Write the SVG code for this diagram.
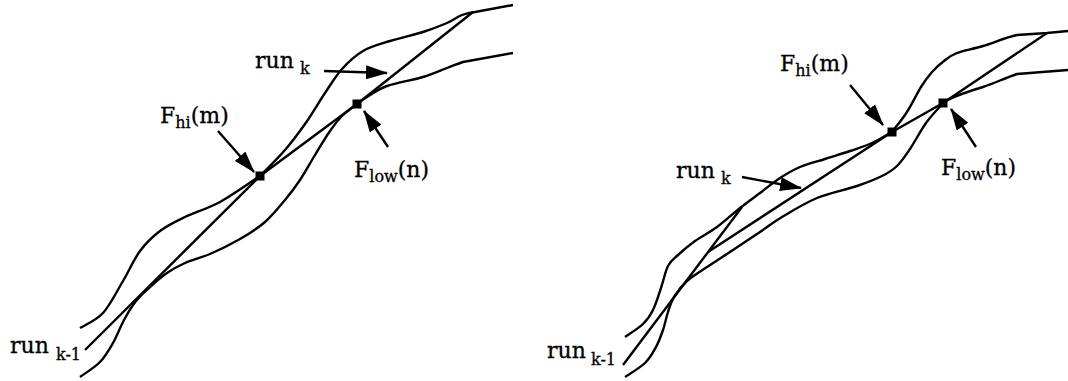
<svg xmlns="http://www.w3.org/2000/svg" width="1068" height="381" viewBox="0 0 1068 381">
<style>
.c{fill:none;stroke:#000;stroke-width:2.4;stroke-linejoin:round;stroke-linecap:butt}
.a{fill:none;stroke:#000;stroke-width:2.4;marker-end:url(#ah)}
.t{font-family:"DejaVu Serif","Liberation Serif",serif;font-size:22px;fill:#000;stroke:#000;stroke-width:0.3}
.s{font-size:16px}
.pt{fill:#000}
</style>
<defs>
<marker id="ah" markerUnits="userSpaceOnUse" markerWidth="22" markerHeight="14" refX="21" refY="7" orient="auto">
<path d="M0,0 L22,7 L0,14 z" fill="#000"/>
</marker>
</defs>
<rect width="1068" height="381" fill="#fff"/>
<g id="connectors">
<path class="c" d="M80,328 C84,325.5 95.8,320.8 103,313 C110.2,305.2 116.8,291.3 123,281 C129.2,270.7 133.8,259.3 140,251 C146.2,242.7 152.5,236.7 160,231 C167.5,225.3 175,221.8 185,217 C195,212.2 207.5,208.8 220,202 C232.5,195.2 253.3,180.3 260,176 C264.2,171.7 277.5,158.7 285,150 C292.5,141.3 298.3,133.5 305,124 C311.7,114.5 318.8,102.2 325,93 C331.2,83.8 335.7,76 342,69 C348.3,62 355,55.7 363,51 C371,46.3 380,44.2 390,41 C400,37.8 413.5,35 423,32 C432.5,29 440.5,25.8 447,23 C453.5,20.2 457.3,16.8 462,15 C466.7,13.2 470,12.5 475,12 L513,5"/>
<path class="c" d="M80,377 C83.3,374.5 94.5,367.7 100,362 C105.5,356.3 109,350 113,343 C117,336 120.2,327 124,320 C127.8,313 131.7,306.5 136,301 C140.3,295.5 144.8,291.7 150,287 C155.2,282.3 161.2,277 167,273 C172.8,269 177.8,266.2 185,263 C192.2,259.8 200.8,258 210,254 C219.2,250 230.8,244.3 240,239 C249.2,233.7 257.5,228.5 265,222 C272.5,215.5 279.2,207 285,200 C290.8,193 295,187.5 300,180 C305,172.5 310,163.2 315,155 C320,146.8 325.3,137.7 330,131 C334.7,124.3 338.5,119.5 343,115 C347.5,110.5 354.7,105.8 357,104 C358.7,102.8 362,100 367,97 C372,94 377.7,89.3 387,86 C396.3,82.7 413,80 423,77 C433,74 440.3,70.5 447,68 C453.7,65.5 457.5,63.7 463,62 L513,53"/>
<path class="c" d="M85,350 L260,176 L357,104 L473,12"/>
<path class="c" d="M625,337 C628,334.8 638.3,328.5 643,324 C647.7,319.5 650,316 653,310 C656,304 658.5,295.3 661,288 C663.5,280.7 665.2,271.5 668,266 C670.8,260.5 673.5,259.2 678,255 C682.5,250.8 688.5,245.7 695,241 C701.5,236.3 709.5,232.5 717,227 C724.5,221.5 732.8,213.7 740,208 C747.2,202.3 753.3,198 760,193 C766.7,188 773.3,182.3 780,178 C786.7,173.7 792.5,170.2 800,167 C807.5,163.8 816.7,161.7 825,159 C833.3,156.3 842.2,153.7 850,151 C857.8,148.3 865,146.2 872,143 C879,139.8 888.7,133.8 892,132 C894.5,128.7 902.2,119.5 907,112 C911.8,104.5 916.8,93.7 921,87 C925.2,80.3 928.2,76.3 932,72 C935.8,67.7 939.8,64.2 944,61 C948.2,57.8 950.5,55.5 957,53 C963.5,50.5 973,49 983,46 C993,43 1006.3,37.2 1017,35 L1047,33 L1068,31"/>
<path class="c" d="M625,377 C628.3,374.7 639.8,368 645,363 C650.2,358 653,352.5 656,347 C659,341.5 661,335.8 663,330 C665,324.2 666.2,317.5 668,312 C669.8,306.5 670.8,302.2 674,297 C677.2,291.8 681.5,286 687,281 C692.5,276 699.3,272.2 707,267 C714.7,261.8 724.2,255.8 733,250 C741.8,244.2 751.8,237.5 760,232 C768.2,226.5 772.5,222.7 782,217 C791.5,211.3 804.5,203.2 817,198 C829.5,192.8 846.2,189.7 857,186 C867.8,182.3 875.3,179.3 882,176 C888.7,172.7 892.3,170.5 897,166 C901.7,161.5 905.2,156.2 910,149 C914.8,141.8 920.5,130.7 926,123 C931.5,115.3 940.2,106.3 943,103 C948,99 960,94 983,87 C995,83 1005,78 1017,74 L1068,70"/>
<path class="c" d="M623,365 L742,207"/>
<path class="c" d="M708,252 L892,132 L943,103 L1047,33"/>
<path class="a" d="M324,71 L387,73"/>
<path class="a" d="M218,131 L254,172"/>
<path class="a" d="M388,147 L364,111"/>
<path class="a" d="M742,177 L801,188"/>
<path class="a" d="M850,85 L883,125"/>
<path class="a" d="M976,147 L951,109"/>
</g>
<g id="fhi-left"><rect class="pt" x="255.5" y="171.5" width="9" height="9"/><text class="t" x="160" y="123">F<tspan class="s" dy="5">hi</tspan><tspan dy="-5">(m)</tspan></text></g>
<g id="flow-left"><rect class="pt" x="352.5" y="99.5" width="9" height="9"/><text class="t" x="354" y="177">F<tspan class="s" dy="5">low</tspan><tspan dy="-5">(n)</tspan></text></g>
<g id="runk-left"><text class="t" x="255" y="68">run</text><text class="t s" x="300" y="74">k</text></g>
<g id="runk1-left"><text class="t" x="10" y="353">run</text><text class="t s" x="56" y="360">k-1</text></g>
<g id="fhi-right"><rect class="pt" x="887.5" y="127.5" width="9" height="9"/><text class="t" x="780" y="71">F<tspan class="s" dy="5">hi</tspan><tspan dy="-5">(m)</tspan></text></g>
<g id="flow-right"><rect class="pt" x="938.5" y="98.5" width="9" height="9"/><text class="t" x="941" y="175">F<tspan class="s" dy="5">low</tspan><tspan dy="-5">(n)</tspan></text></g>
<g id="runk-right"><text class="t" x="676" y="178">run</text><text class="t s" x="721" y="184">k</text></g>
<g id="runk1-right"><text class="t" x="547" y="358">run</text><text class="t s" x="591" y="365">k-1</text></g>
</svg>
